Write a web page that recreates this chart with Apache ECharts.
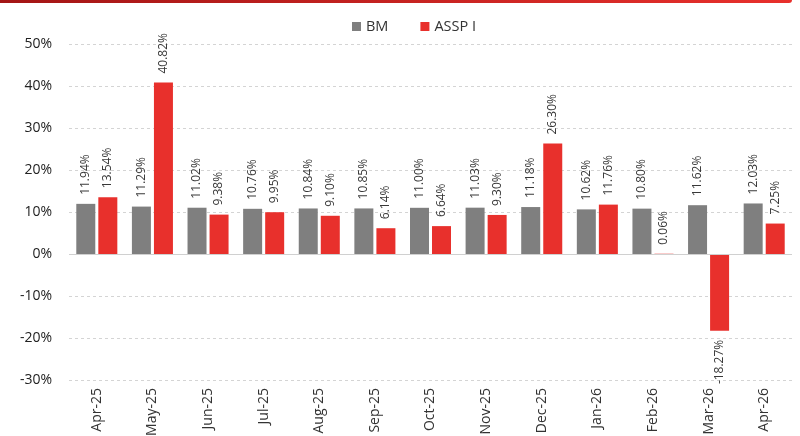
<!DOCTYPE html>
<html><head><meta charset="utf-8">
<script src="https://cdn.jsdelivr.net/npm/echarts@6/dist/echarts.min.js"></script>
<style>html,body{margin:0;padding:0;background:#fff}#c{width:800px;height:436px}</style>
</head><body><div id="c"></div>
<script>
const categories = ['Apr-25','May-25','Jun-25','Jul-25','Aug-25','Sep-25','Oct-25','Nov-25','Dec-25','Jan-26','Feb-26','Mar-26','Apr-26'];
const bmValues = [11.94,11.29,11.02,10.76,10.84,10.85,11.00,11.03,11.18,10.62,10.80,11.62,12.03];
const asspValues = [13.54,40.82,9.38,9.95,9.10,6.14,6.64,9.30,26.30,11.76,0.06,-18.27,7.25];
const seriesNames = ['BM','ASSP I'];
const yTicks = {min:-30,max:50,interval:10};

const FONT = '"Open Sans", "Liberation Sans", sans-serif';
const labelBase = {show:true, rotate:90, fontSize:12, color:'#383838', fontFamily:FONT, distance:9,
  formatter: p => p.value.toFixed(2) + '%'};
function mk(vals){
  return vals.map(v => v < 0
    ? {value:v, label:{position:'bottom', align:'right', verticalAlign:'middle'}}
    : {value:v, label:{position:'top', align:'left', verticalAlign:'middle'}});
}
const chart = echarts.init(document.getElementById('c'), null, {renderer:'canvas'});
chart.setOption({
  animation:false,
  backgroundColor:'#fff',
  graphic:[{type:'rect', left:0, top:0, shape:{width:792,height:3, r:[0,0,3,0]},
    style:{fill:new echarts.graphic.LinearGradient(0,0,1,0,[{offset:0,color:'#a31515'},{offset:1,color:'#e8302c'}])}}],
  legend:{top:14, left:347, itemWidth:9, itemHeight:9, itemGap:32, icon:'rect',
    textStyle:{fontSize:14.5, color:'#333', fontFamily:FONT}, data:seriesNames},
  grid:{left:69, right:8, top:44, bottom:56, containLabel:false, outerBoundsMode:'none'},
  xAxis:{type:'category', data:categories, axisLine:{show:false, onZero:false}, axisTick:{show:false},
    axisLabel:{rotate:90, fontSize:14, color:'#333', margin:8, fontFamily:FONT, interval:0}},
  yAxis:{type:'value', min:yTicks.min, max:yTicks.max, interval:yTicks.interval,
    axisLine:{show:false}, axisTick:{show:false},
    axisLabel:{formatter:'{value}%', fontSize:14, color:'#222', margin:17, fontFamily:FONT},
    splitLine:{lineStyle:{type:[3,3], color:'#d4d4d4'}}},
  series:[
    {name:seriesNames[0], type:'bar', data:mk(bmValues), barWidth:19, barGap:'16%',
      itemStyle:{color:'#7f7f7f'}, label:labelBase,
      markLine:{silent:true, symbol:'none', label:{show:false}, lineStyle:{color:'#d0d0d0', type:'solid', width:1}, data:[{yAxis:0}]}},
    {name:seriesNames[1], type:'bar', data:mk(asspValues), barWidth:19, barMinHeight:0,
      itemStyle:{color:'#e8302c'}, label:labelBase}
  ]
});
</script></body></html>
